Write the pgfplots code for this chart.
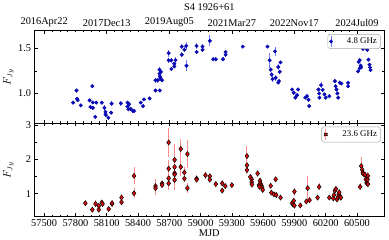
\documentclass[border=0pt]{standalone}
\usepackage{fontspec}
\setmainfont{Liberation Serif}
\usepackage{pgfplots}
\usepackage{pgfplotstable}
\pgfplotsset{compat=1.18}
\definecolor{myblue}{RGB}{10,10,180}
\definecolor{myblueerr}{RGB}{110,120,255}
\definecolor{myred}{RGB}{225,10,10}
\definecolor{myrederr}{RGB}{255,140,140}

\pgfplotstableread{
x y e
57778 0.898 0.02
57810 1.033 0.02
57816 0.94 0.02
57822 0.925 0.02
57851 0.868 0.02
57936 0.923 0.02
57943 0.85 0.02
57962 1.081 0.02
57967 0.84 0.02
57967 0.90 0.02
57990 0.74 0.02
58000 0.898 0.02
58053 0.898 0.02
58078 0.84 0.03
58088 0.795 0.02
58088 0.77 0.02
58092 0.76 0.02
58116 0.73 0.02
58142 0.787 0.02
58147 0.887 0.03
58236 0.89 0.03
58299 0.898 0.02
58299 0.855 0.02
58308 0.824 0.02
58315 0.88 0.02
58330 0.83 0.02
58350 0.806 0.02
58362 0.806 0.02
58426 0.898 0.02
58448 0.86 0.02
58457 0.934 0.02
58511 0.945 0.02
58568 1.033 0.02
58609 1.033 0.02
58568 1.147 0.03
58590 1.147 0.03
58606 1.264 0.03
58606 1.22 0.03
58610 1.19 0.04
58615 1.17 0.03
58620 1.24 0.03
58630 1.147 0.02
58694 1.448 0.04
58694 1.368 0.03
58720 1.368 0.03
58720 1.272 0.02
58748 1.30 0.02
58748 1.33 0.02
58760 1.37 0.03
58820 1.52 0.03
58820 1.43 0.03
58845 1.485 0.03
58862 1.528 0.04
58865 1.308 0.06
58962 1.528 0.03
58962 1.46 0.02
59019 1.52 0.03
59019 1.485 0.02
59089 1.584 0.06
59120 1.38 0.02
59146 1.38 0.02
59215 1.38 0.02
59240 1.43 0.03
59240 1.46 0.02
59405 1.52 0.02
59642 1.52 0.02
59663 1.368 0.08
59673 1.264 0.03
59682 1.21 0.03
59690 1.16 0.03
59714 1.467 0.05
59720 1.173 0.03
59745 1.12 0.02
59752 1.137 0.02
59745 1.294 0.03
59767 1.345 0.02
59760 1.24 0.02
59878 1.044 0.02
59894 1.008 0.02
59909 0.953 0.02
59925 0.98 0.02
59935 1.044 0.02
60004 0.953 0.02
60020 0.97 0.02
60035 0.93 0.02
60042 0.86 0.02
60131 1.044 0.02
60137 1.0 0.02
60140 0.953 0.02
60156 1.092 0.03
60172 1.04 0.02
60188 0.99 0.02
60200 0.953 0.02
60235 0.97 0.02
60288 1.137 0.02
60295 1.08 0.02
60304 1.044 0.02
60313 1.0 0.02
60320 0.953 0.02
60335 1.12 0.02
60350 1.11 0.02
60415 1.118 0.02
60415 1.08 0.02
60510 1.246 0.02
60516 1.35 0.02
60526 1.28 0.03
60535 1.31 0.02
60526 1.37 0.02
60540 1.29 0.02
60557 1.496 0.02
60598 1.485 0.02
60610 1.375 0.02
60620 1.32 0.02
60625 1.29 0.02
60630 1.26 0.02
}\datalow

\pgfplotstableread{
x y e
57895 0.72 0.07
57962 0.53 0.05
57993 0.70 0.10
58024 0.53 0.05
58024 0.64 0.05
58053 0.74 0.08
58060 0.70 0.06
58119 0.55 0.05
58151 0.70 0.10
58151 0.72 0.06
58242 0.885 0.10
58242 0.75 0.08
58362 1.52 0.25
58362 1.01 0.15
58568 1.22 0.20
58568 1.16 0.20
58631 1.30 0.08
58631 1.25 0.06
58694 2.50 0.42
58694 1.73 0.25
58694 1.45 0.25
58694 1.30 0.20
58751 1.99 0.45
58751 1.78 0.30
58751 1.60 0.25
58751 1.56 0.20
58751 1.40 0.30
58810 2.31 0.30
58810 1.78 0.25
58845 1.62 0.15
58845 1.44 0.10
58874 2.16 0.40
58874 1.16 0.15
58962 1.44 0.10
58962 1.41 0.08
59047 1.54 0.10
59089 1.51 0.08
59089 1.41 0.08
59146 1.28 0.06
59208 1.30 0.06
59208 1.09 0.08
59237 1.22 0.05
59300 1.25 0.05
59445 2.10 0.30
59445 1.83 0.15
59445 1.69 0.10
59477 1.49 0.10
59490 1.42 0.08
59490 1.34 0.08
59493 1.27 0.10
59547 1.59 0.10
59560 1.25 0.05
59570 1.38 0.08
59575 1.30 0.08
59583 1.24 0.06
59590 1.18 0.06
59596 1.11 0.06
59565 1.20 0.05
59673 1.23 0.05
59679 1.03 0.05
59704 0.98 0.04
59720 1.42 0.06
59726 0.96 0.04
59767 0.885 0.04
59878 0.72 0.05
59888 0.68 0.04
59894 0.79 0.05
59900 1.06 0.12
59900 0.65 0.04
59957 0.655 0.04
60014 0.77 0.05
60027 1.16 0.35
60045 0.81 0.05
60122 0.885 0.06
60137 1.20 0.10
60235 0.885 0.04
60273 0.86 0.04
60279 0.96 0.05
60289 1.09 0.05
60298 1.14 0.05
60308 0.83 0.04
60317 0.90 0.04
60325 0.98 0.04
60330 1.04 0.04
60338 0.92 0.04
60345 0.88 0.04
60530 1.20 0.10
60541 1.81 0.25
60550 1.70 0.15
60556 1.62 0.10
60560 1.58 0.10
60578 1.55 0.08
60585 1.42 0.08
60592 1.32 0.08
60598 1.30 0.06
60602 1.42 0.08
60605 1.52 0.10
60605 1.28 0.06
}\datahigh

\begin{document}
\begin{tikzpicture}
\pgfplotsset{
  common/.style={
    width=355pt, scale only axis,
    xmin=57408, xmax=60760,
    font=\fontsize{10.5}{12}\selectfont,
    /pgf/number format/assume math mode=true,
    /pgf/number format/1000 sep={},
    scaled x ticks=false,
    tick align=inside,
    major tick length=3.5pt, minor tick length=2pt,
    every tick/.style={black, line width=0.5pt},
    axis line style={line width=0.6pt},
    ylabel={$F_{Jy}$},
    ylabel style={at={(axis description cs:-0.05,0.5)}, anchor=south},
    legend cell align=left,
    legend style={at={(0.99,0.96)}, anchor=north east, rounded corners=2pt,
      draw=gray!70, font=\fontsize{9}{10}\selectfont, inner sep=1.5pt},
  }
}
\begin{axis}[common, name=top, height=94pt,
  ymin=0.672, ymax=1.70,
  ytick={1.0,1.5}, yticklabels={1.0,1.5}, minor y tick num=1,
  xticklabel pos=upper,
  xtick={57500,58100,58700,59300,59900,60500},
  xticklabels={2016Apr22,2017Dec13,2019Aug05,2021Mar27,2022Nov17,2024Jul09},
  minor x tick num=7,
  title={S4 1926+61},
  title style={yshift=11pt},
]
\addplot[only marks, mark=*, mark size=1.8pt, mark options={fill=myblue, draw=myblue},
  error bars/.cd, y dir=both, y explicit, error mark=none,
  error bar style={myblueerr, line width=0.9pt},
  /pgfplots/legend image code/.code={
    \draw[myblueerr, line width=0.9pt] (0.3cm,-0.18cm)--(0.3cm,0.18cm);
    \fill[myblue] (0.3cm,0cm) circle (1.8pt);
  }]
  table[x=x, y=y, y error=e] {\datalow};
\addlegendentry{\hspace{12pt}4.8 GHz}
\end{axis}
\begin{axis}[common, at={(top.south west)}, anchor=north west, height=95pt,
  ymin=0.33, ymax=3.07,
  ytick={1,2,3}, minor y tick num=1,
  xtick={57500,57800,...,60500},
  minor x tick num=3,
  xlabel={MJD},
  xlabel style={yshift=4pt},
]
\addplot[only marks, mark=diamond*, mark size=2.6pt, mark options={fill=myred, draw=black, line width=0.5pt},
  error bars/.cd, y dir=both, y explicit, error mark=none,
  error bar style={myrederr, line width=1pt},
  /pgfplots/legend image code/.code={
    \draw[myrederr, line width=1pt] (0.3cm,-0.2cm)--(0.3cm,0.2cm);
    \draw[fill=myred, draw=black, line width=0.5pt] (0.3cm,2.6pt)--(0.3cm+2.6pt,0cm)--(0.3cm,-2.6pt)--(0.3cm-2.6pt,0cm)--cycle;
  }]
  table[x=x, y=y, y error=e] {\datahigh};
\addlegendentry{\hspace{12pt}23.6 GHz}
\end{axis}
\path (top.north east) ++(5pt,0pt);
\end{tikzpicture}
\end{document}
